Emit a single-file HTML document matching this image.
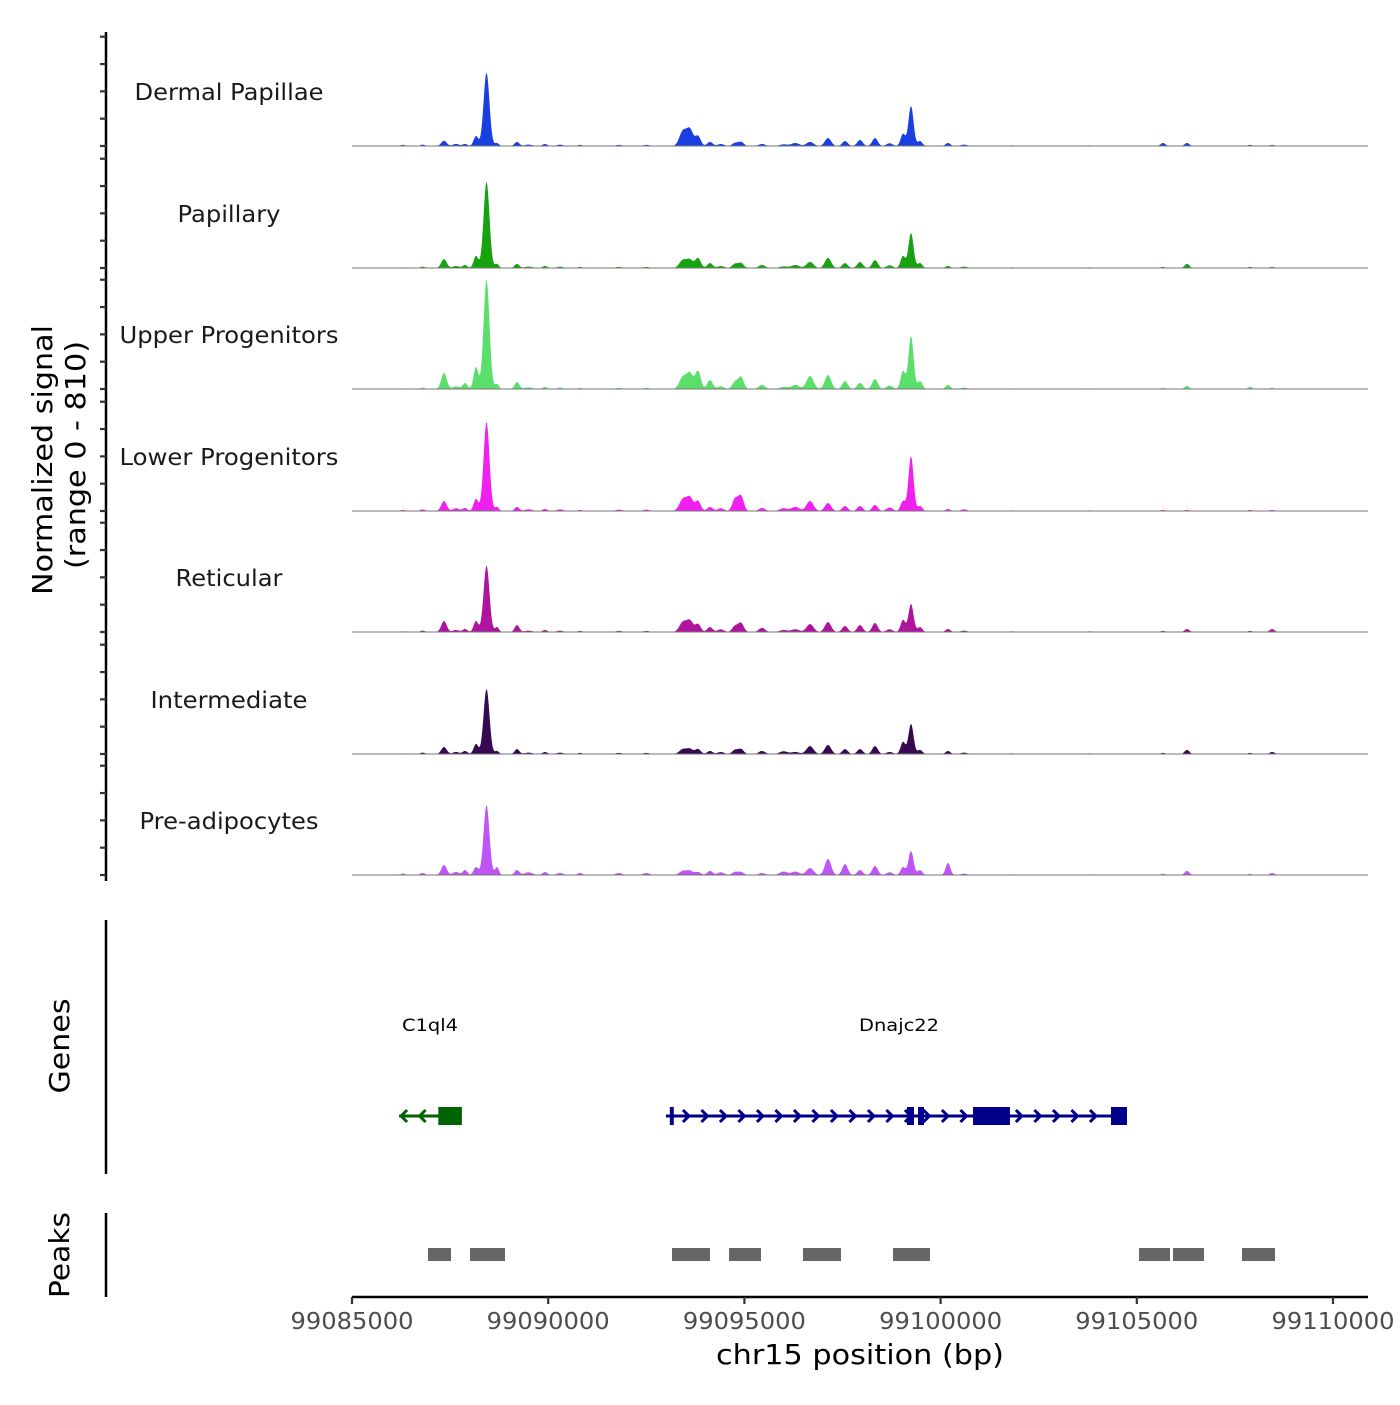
<!DOCTYPE html>
<html><head><meta charset="utf-8"><style>
body{margin:0;background:#fff}
svg text{font-family:"DejaVu Sans","Liberation Sans",sans-serif}
</style></head><body>
<svg id="chart" width="1400" height="1400" viewBox="0 0 1400 1400" xmlns="http://www.w3.org/2000/svg">
<g id="tracks"></g>
<g id="yaxis"></g>
<text transform="translate(52,460) rotate(-90)" text-anchor="middle" font-size="28" fill="#000" textLength="270" lengthAdjust="spacingAndGlyphs">Normalized signal</text>
<text transform="translate(85,455) rotate(-90)" text-anchor="middle" font-size="28" fill="#000" textLength="228" lengthAdjust="spacingAndGlyphs">(range 0 - 810)</text>
<g id="genes"></g>
<line x1="106" y1="920" x2="106" y2="1174" stroke="#000" stroke-width="2.5"/>
<text transform="translate(69,1046) rotate(-90)" text-anchor="middle" font-size="28" textLength="95" lengthAdjust="spacingAndGlyphs">Genes</text>
<g id="peaks"></g>
<line x1="106" y1="1213" x2="106" y2="1297" stroke="#000" stroke-width="2.5"/>
<text transform="translate(69,1255) rotate(-90)" text-anchor="middle" font-size="28" textLength="86" lengthAdjust="spacingAndGlyphs">Peaks</text>
<g id="xaxis"></g>
<text x="860" y="1364" text-anchor="middle" font-size="28" textLength="288" lengthAdjust="spacingAndGlyphs">chr15 position (bp)</text>
</svg>
<script>
const trackNames=["Dermal Papillae","Papillary","Upper Progenitors","Lower Progenitors","Reticular","Intermediate","Pre-adipocytes"];
const trackColors=["#1a3fe0","#17a30f","#5ae06a","#f020f0","#b0149e","#360a52","#c055f5"];
const peakCenters=[99087345,99087880,99088160,99088428,99088695,99089205,99089918,99090810,99093435,99093614,99093817,99094123,99094760,99094913,99095448,99096672,99097130,99097564,99097946,99098328,99099042,99099246,99099475,99100188,99105667,99106279,99107888,99108449,99086300,99086800,99087650,99089500,99090300,99091800,99092500,99094400,99096000,99096300,99098700,99100600,99101800,99103800];
const peakWidths=[70,60,60,75,50,60,60,60,90,80,70,70,70,70,80,90,80,70,70,70,60,65,60,60,60,60,60,60,60,60,80,100,80,80,80,80,100,100,80,80,80,80];
const sigDermal=[38,15,72,535,22,30,15,8,110,117,73,30,22,30,15,30,58,36,44,58,88,292,36,22,22,22,8,8,8,10,15,10,10,8,8,15,12,22,20,10,5,5];
const sigPapillary=[66,22,88,630,30,30,15,8,58,58,73,36,30,36,22,44,73,36,44,58,88,256,36,15,8,30,8,8,5,10,15,10,10,8,8,15,12,22,20,10,5,5];
const sigUpper=[117,44,160,800,36,51,15,8,88,110,131,66,51,88,30,95,102,58,44,73,131,387,58,30,8,22,15,8,5,10,20,12,10,8,8,20,15,30,25,10,5,5];
const sigLower=[73,22,88,650,30,30,15,8,88,95,73,30,88,110,22,73,58,36,36,44,73,400,36,15,8,8,8,8,8,12,20,12,12,10,10,20,20,30,25,12,5,5];
const sigReticular=[80,22,80,485,36,51,15,8,73,80,58,36,44,66,30,58,73,44,51,66,88,205,36,22,8,22,8,22,5,10,15,10,10,8,8,20,15,20,20,10,5,5];
const sigIntermediate=[51,22,73,475,22,36,15,8,36,36,36,22,30,36,22,58,66,36,36,58,88,220,30,22,8,30,8,15,5,10,15,10,10,8,8,15,20,15,15,10,5,5];
const sigPreadipocytes=[73,36,58,510,58,36,22,15,30,30,22,30,22,22,15,51,117,80,36,66,58,175,36,88,8,30,8,15,10,15,22,20,15,15,15,20,25,25,20,10,5,5];
const trackSignals=[sigDermal,sigPapillary,sigUpper,sigLower,sigReticular,sigIntermediate,sigPreadipocytes];
const yTicks=[0,200,400,600,800];
const xTicks=[99085000,99090000,99095000,99100000,99105000,99110000];
const geneNames=["C1ql4","Dnajc22"];
const geneStarts=[99086200,99093000];
const geneEnds=[99087800,99104750];
const geneStrands=[-1,1];
const exonStarts=[99087200,99093100,99099143,99099424,99100826,99104343];
const exonEnds=[99087800,99093200,99099321,99099577,99101768,99104750];
const exonGene=[0,1,1,1,1,1];
const peakStarts=[99086937,99088007,99093155,99094608,99096493,99098787,99105056,99105922,99107681];
const peakEnds=[99087523,99088899,99094123,99095423,99097462,99099730,99105846,99106712,99108522];

const NS="http://www.w3.org/2000/svg";
const X0=352,X1=1368,BP0=99085000,BP1=99110000;
const xs=bp=>352+(bp-BP0)/5000*196.2;
const baselines=[146,268,389,511,632,754,875];
const yScale=0.1366;
const labelLens=[189,103,219,219,107,157,179];
function mk(tag,attrs,parent){const e=document.createElementNS(NS,tag);for(const k in attrs)e.setAttribute(k,attrs[k]);parent.appendChild(e);return e;}
const tracks=document.getElementById('tracks');
trackNames.forEach((name,t)=>{
  const b=baselines[t];const sig=trackSignals[t];
  let d=`M${X0},${b}`;
  for(let x=400;x<=1330;x+=0.5){
    const bp=BP0+(x-352)/196.2*5000;let v=0;
    for(let i=0;i<peakCenters.length;i++){const z=(bp-peakCenters[i])/peakWidths[i];if(Math.abs(z)<4)v+=sig[i]*Math.exp(-z*z/2);}
    d+=` L${x.toFixed(1)},${(b-v*yScale).toFixed(2)}`;
  }
  d+=` L${X1},${b} Z`;
  const p=mk('path',{d:d,fill:trackColors[t],stroke:'none'},tracks);
  
  
  const l=mk('line',{x1:X0,x2:X1,y1:b,y2:b,stroke:'#777','stroke-width':1},tracks);
  
  
  const tx=mk('text',{x:229,y:b-46,'text-anchor':'middle','font-size':23,fill:'#1a1a1a',textLength:labelLens[t],lengthAdjust:'spacingAndGlyphs'},tracks);
  tx.textContent=name;
  
  
});
const ya=document.getElementById('yaxis');
mk('line',{x1:106,x2:106,y1:32,y2:881,stroke:'#000','stroke-width':2.5},ya);
baselines.forEach(b=>{yTicks.forEach(v=>{
  const tk=mk('line',{x1:100,x2:106,y1:b-v*yScale,y2:b-v*yScale,stroke:'#333','stroke-width':2.2},ya);
  
  
});});
const g=document.getElementById('genes');
const gy=1116;const gcol=["#006400","#00008b"];
const labelX=[430,899];
const geneLens=[56,80];
geneNames.forEach((n,i)=>{
  const s=xs(geneStarts[i]),e=xs(geneEnds[i]);
  const ln=mk('line',{x1:s,x2:e,y1:gy,y2:gy,stroke:gcol[i],'stroke-width':3},g);
  
  
  const lb=mk('text',{x:labelX[i],y:1031,'text-anchor':'middle','font-size':17,fill:'#000',textLength:geneLens[i],lengthAdjust:'spacingAndGlyphs'},g);
  lb.textContent=n;
  
  
  const step=18.5;
  if(geneStrands[i]<0){for(let x=s+2;x<s+30;x+=step){mk('path',{d:`M${x+6},${gy-6} L${x},${gy} L${x+6},${gy+6}`,fill:'none',stroke:gcol[i],'stroke-width':3},g);}}
  else{for(let x=s+20;x<e-20;x+=step){mk('path',{d:`M${x-3},${gy-6} L${x+3},${gy} L${x-3},${gy+6}`,fill:'none',stroke:gcol[i],'stroke-width':3},g);}}
});
exonStarts.forEach((st,i)=>{
  const r=mk('rect',{x:xs(st),y:gy-9,width:Math.max(3,xs(exonEnds[i])-xs(st)),height:18,fill:gcol[exonGene[i]]},g);
  
  
});
const pk=document.getElementById('peaks');
peakStarts.forEach((st,i)=>{
  const r=mk('rect',{x:xs(st),y:1248,width:xs(peakEnds[i])-xs(st),height:13,fill:'#666'},pk);
  
  
});
const xa=document.getElementById('xaxis');
mk('line',{x1:X0,x2:X1,y1:1297,y2:1297,stroke:'#000','stroke-width':2.5},xa);
xTicks.forEach(v=>{
  const x=xs(v);
  mk('line',{x1:x,x2:x,y1:1297,y2:1304,stroke:'#333','stroke-width':2.2},xa);
  const t=mk('text',{x:x,y:1329,'text-anchor':'middle','font-size':23,fill:'#4d4d4d',textLength:123,lengthAdjust:'spacingAndGlyphs'},xa);
  t.textContent=v;
  
  
});
</script>
</body></html>
